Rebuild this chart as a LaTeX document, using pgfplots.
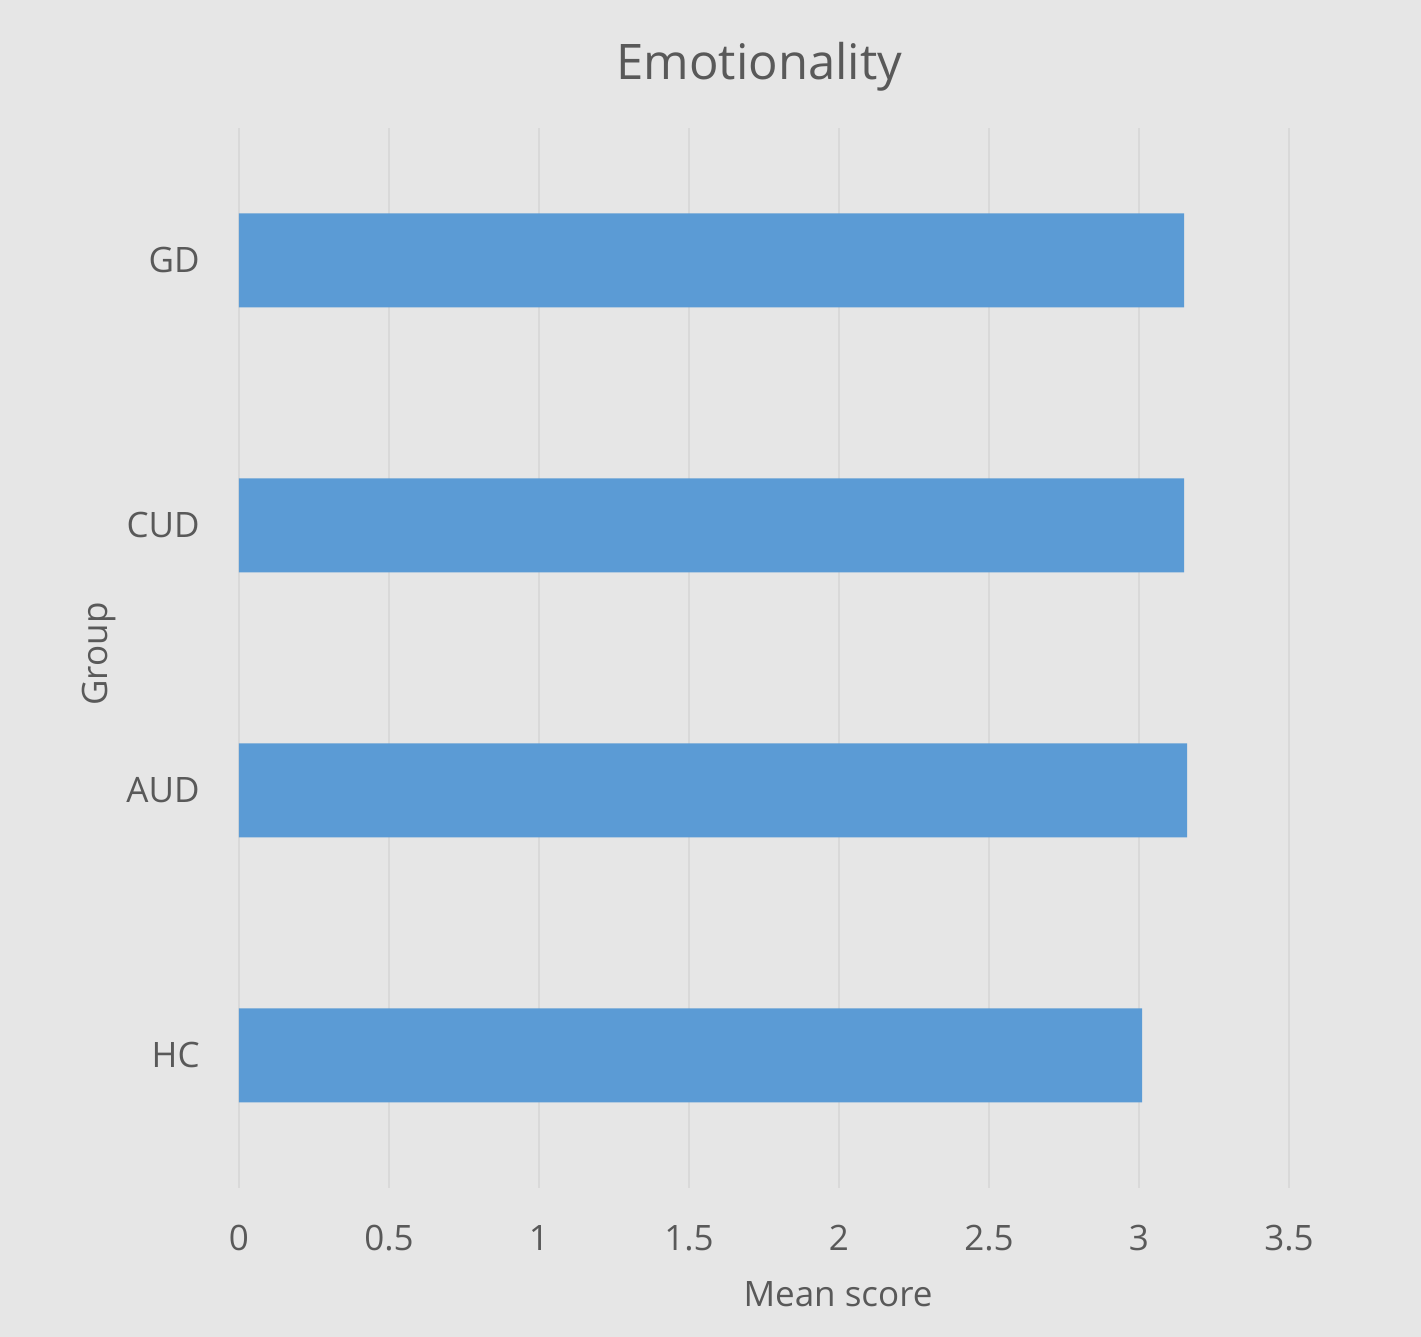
\documentclass[border=0pt]{standalone}
\usepackage{pgfplots}
\pgfplotsset{compat=1.18}
\usepackage{fontspec}
\setmainfont{Open Sans}

\definecolor{bgcol}{HTML}{E6E6E6}
\definecolor{barcol}{HTML}{5B9BD5}
\definecolor{gridcol}{HTML}{D9D9D9}
\definecolor{txtcol}{HTML}{595959}

\begin{document}
\begin{tikzpicture}
  % chart area background, also fixes the page size
  \fill[bgcol] (-119.5pt,-74.5pt) rectangle (591pt,594pt);
  \useasboundingbox (-119.5pt,-74.5pt) rectangle (591pt,594pt);
  \begin{axis}[
    at={(0,0)}, anchor=south west,
    scale only axis,
    width=525pt, height=530pt,
    xbar,
    bar width=47pt,
    xmin=0, xmax=3.5,
    ymin=-0.5, ymax=3.5,
    xtick={0,0.5,1,1.5,2,2.5,3,3.5},
    xticklabels={0,0.5,1,1.5,2,2.5,3,3.5},
    ytick={0,1,2,3},
    yticklabels={HC,AUD,CUD,GD},
    xmajorgrids,
    major grid style={draw=gridcol, line width=0.6pt},
    axis line style={draw=none},
    major tick length=0pt,
    tick style={draw=none},
    font=\fontsize{17.5}{21}\selectfont,
    xticklabel style={anchor=base, yshift=-31.25pt, text=txtcol, inner sep=0pt},
    yticklabel style={anchor=base east, xshift=-19.5pt, yshift=-6pt, text=txtcol, inner sep=0pt},
    title={Emotionality},
    title style={at={(axis description cs:0.4957,1)}, anchor=base, yshift=18pt,
                 font=\fontsize{24.5}{29}\selectfont, text=txtcol, inner sep=0pt},
    xlabel={Mean score},
    xlabel style={at={(axis description cs:0.5705,0)}, anchor=base, yshift=-59.5pt,
                  text=txtcol, inner sep=0pt},
    ylabel={Group},
    ylabel style={at={(axis description cs:0,0.5)}, anchor=base,
                  xshift=2pt, yshift=65.5pt, text=txtcol, inner sep=0pt},
  ]
    \addplot[fill=barcol, draw=none] coordinates {
      (3.01,0) (3.16,1) (3.15,2) (3.15,3)
    };
  \end{axis}
\end{tikzpicture}
\end{document}
